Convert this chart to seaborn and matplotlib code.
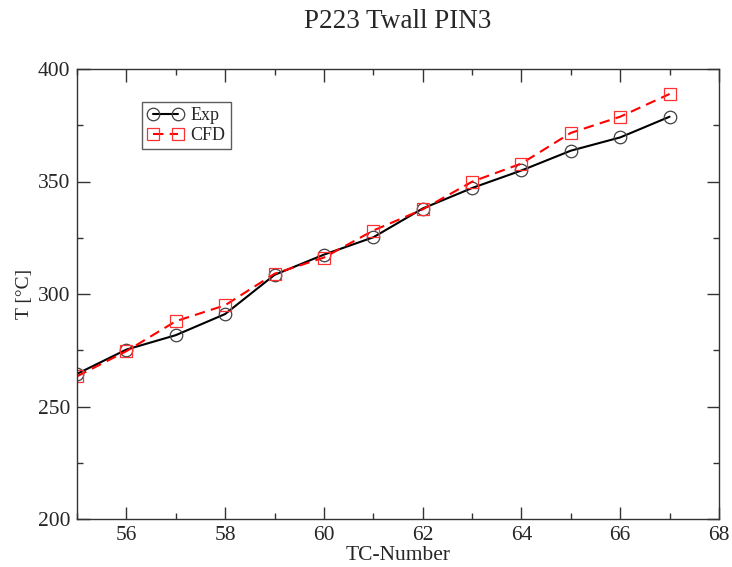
import matplotlib
matplotlib.use("Agg")
import matplotlib.pyplot as plt
from matplotlib.ticker import MultipleLocator
import seaborn as sns
import pandas as pd

tc_number = [55, 56, 57, 58, 59, 60, 61, 62, 63, 64, 65, 66, 67]
exp_values = [264.5, 275.3, 281.7, 291.1, 308.5, 317.5, 325.2, 338.0, 347.1, 354.9, 363.7, 369.6, 378.8]
cfd_values = [263.4, 274.6, 287.9, 295.0, 309.0, 316.2, 328.2, 337.6, 349.9, 358.0, 371.6, 378.8, 388.9]

title = "P223 Twall PIN3"
xlabel = "TC-Number"
ylabel = "T [°C]"

df = pd.DataFrame({"TC": tc_number, "Exp": exp_values, "CFD": cfd_values})

sns.set_style("ticks")
plt.rcParams["font.family"] = ["Liberation Serif", "DejaVu Serif"]

fig = plt.figure(figsize=(7.32, 5.67), dpi=100)
ax = fig.add_axes([77 / 732, 48 / 567, 642 / 732, 450 / 567])

sns.lineplot(data=df, x="TC", y="Exp", ax=ax, color="black", linewidth=1.5,
             marker="o", markersize=9, markerfacecolor="none",
             markeredgecolor="0.25", markeredgewidth=0.9, label="Exp")
sns.lineplot(data=df, x="TC", y="CFD", ax=ax, color="red", linewidth=1.5,
             linestyle=(0, (5, 3)), marker="s", markersize=8.5,
             markerfacecolor="none", markeredgecolor="#ff3030",
             markeredgewidth=0.9, label="CFD")

ax.set_xlim(55, 68)
ax.set_ylim(200, 400)
ax.xaxis.set_major_locator(MultipleLocator(2))
ax.xaxis.set_minor_locator(MultipleLocator(1))
ax.yaxis.set_major_locator(MultipleLocator(50))
ax.yaxis.set_minor_locator(MultipleLocator(25))
ax.tick_params(which="both", direction="in", top=True, right=True,
               color="0.2", width=1.0)
ax.tick_params(which="major", length=9, labelsize=15.5, pad=5)
ax.tick_params(which="minor", length=4.5)
for s in ax.spines.values():
    s.set_visible(True)
    s.set_linewidth(1.0)
    s.set_color("0.2")

ax.set_xlabel(xlabel, fontsize=15.5, labelpad=1)
ax.set_ylabel(ylabel, fontsize=14, labelpad=3)
fig.text((77 + 642 / 2) / 732, 1 - 21 / 567, title, fontsize=19.5,
         ha="center", va="center")

leg = ax.legend(loc="upper left", bbox_to_anchor=(0.101, 0.927), borderaxespad=0,
                numpoints=2, handlelength=2.0, fontsize=13, frameon=True,
                fancybox=False, edgecolor="0.2", handletextpad=0.4,
                borderpad=0.3, labelspacing=0.15)
leg.get_frame().set_linewidth(1.0)

fig.savefig("out.png", dpi=100)
